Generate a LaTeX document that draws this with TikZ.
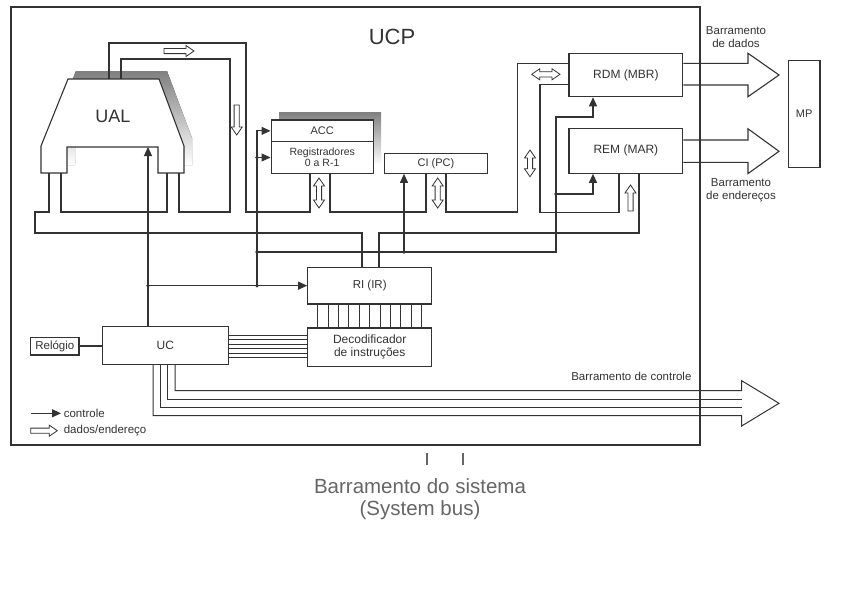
\documentclass[tikz,border=0pt]{standalone}
\usepackage{fontspec}
\setmainfont{Liberation Sans}
\usetikzlibrary{arrows.meta}
\definecolor{ink}{HTML}{333333}
\definecolor{shade}{HTML}{A8A8A8}
\definecolor{capt}{HTML}{666666}
% hollow (data/address) arrows
\newcommand\hollowR[3]{\draw[hol] (#1,#3-2.6) -- (#2-8,#3-2.6) -- (#2-8,#3-5.5) -- (#2,#3) -- (#2-8,#3+5.5) -- (#2-8,#3+2.6) -- (#1,#3+2.6) -- cycle;}
\newcommand\hollowD[3]{\draw[hol] (#1-2.6,#2) -- (#1-2.6,#3-8) -- (#1-5.5,#3-8) -- (#1,#3) -- (#1+5.5,#3-8) -- (#1+2.6,#3-8) -- (#1+2.6,#2) -- cycle;}
\newcommand\hollowU[3]{\draw[hol] (#1-2.6,#2) -- (#1-2.6,#3+8) -- (#1-5.5,#3+8) -- (#1,#3) -- (#1+5.5,#3+8) -- (#1+2.6,#3+8) -- (#1+2.6,#2) -- cycle;}
\newcommand\hollowUD[3]{\draw[hol] (#1,#2) -- (#1+5.5,#2+8) -- (#1+2.6,#2+8) -- (#1+2.6,#3-8) -- (#1+5.5,#3-8) -- (#1,#3) -- (#1-5.5,#3-8) -- (#1-2.6,#3-8) -- (#1-2.6,#2+8) -- (#1-5.5,#2+8) -- cycle;}
\newcommand\hollowLR[3]{\draw[hol] (#1,#3) -- (#1+8,#3-5.5) -- (#1+8,#3-2.6) -- (#2-8,#3-2.6) -- (#2-8,#3-5.5) -- (#2,#3) -- (#2-8,#3+5.5) -- (#2-8,#3+2.6) -- (#1+8,#3+2.6) -- (#1+8,#3+5.5) -- cycle;}
\begin{document}
\begin{tikzpicture}[x=1pt,y=-1pt,color=ink,line width=1.1pt,
  box/.style={draw,fill=white,inner sep=0pt,align=center,font=\fontsize{11.5}{12.5}\selectfont},
  lbl/.style={inner sep=0pt,align=center,font=\fontsize{11.5}{13}\selectfont},
  hol/.style={draw,fill=white,line width=0.8pt,line join=miter},
  ctl/.style={-{Triangle[length=9pt,width=8pt]}},
  jdot/.style={circle,fill=ink,inner sep=0pt,minimum size=3.8pt},
  cbus/.style={line width=1pt}]
\useasboundingbox (0,0) rectangle (855,597);
\fill[white] (0,0) rectangle (855,597);

% UCP frame
\node[draw,inner sep=0pt,minimum width=689pt,minimum height=438pt] (ucp) at (355.5,226) {};
\node[lbl,font=\fontsize{22}{24}\selectfont] (ucplbl) at (392,37) {UCP};

% UAL with shadow
\fill[shade,shift={(8,-8)}] (68,79) -- (159,79) -- (184,146) -- (184,173) -- (158,173) -- (158,147) -- (67,147) -- (67,173) -- (41,173) -- (41,146) -- cycle;
\draw[fill=white] (68,79) -- (159,79) -- (184,146) -- (184,173) -- (158,173) -- (158,147) -- (67,147) -- (67,173) -- (41,173) -- (41,146) -- cycle;
\node[lbl,font=\fontsize{18}{20}\selectfont] (ual) at (113,116.5) {UAL};

% ACC / registers shadow
\fill[shade] (279,112) rectangle (381,165);

% boxes
\node[box,minimum width=102.3pt,minimum height=21.7pt,font=\fontsize{11}{12}\selectfont] (acc) at (322.2,130.85) {ACC};
\node[box,minimum width=102.3pt,minimum height=31.6pt,font=\fontsize{10.5}{11}\selectfont] (regs) at (322.2,157.5) {Registradores\\0 a R-1};
\node[box,minimum width=103.4pt,minimum height=20pt,font=\fontsize{11}{12}\selectfont] (ci) at (436,163.3) {CI (PC)};
\node[box,minimum width=113.7pt,minimum height=43.4pt,font=\fontsize{12}{13}\selectfont] (rdm) at (625.85,75) {RDM (MBR)};
\node[box,minimum width=113.7pt,minimum height=45pt,font=\fontsize{12}{13}\selectfont] (rem) at (625.85,150.8) {REM (MAR)};
\node[box,minimum width=31.7pt,minimum height=107pt,font=\fontsize{11}{12}\selectfont] (mp) at (804.15,114.2) {MP};
\node[box,minimum width=124pt,minimum height=36.7pt,font=\fontsize{11.5}{12.5}\selectfont] (ri) at (369.7,285.65) {RI (IR)};
\node[box,minimum width=124pt,minimum height=38.7pt,font=\fontsize{12}{13}\selectfont] (dec) at (369.7,347.35) {Decodificador\\de instruções};
\node[box,minimum width=126pt,minimum height=37.6pt,font=\fontsize{12}{13}\selectfont] (uc) at (165.3,345.5) {UC};
\node[box,minimum width=48.3pt,minimum height=17.7pt,font=\fontsize{11.5}{12}\selectfont] (rel) at (54.85,346.15) {Relógio};

% internal data bus (double walls)
\draw (49,173) -- (49,212) -- (35,212) -- (35,233) -- (362,233) -- (ri.north -| 362,0);
\draw (61,173) -- (61,212) -- (167,212) -- (167,173);
\draw (179,173) -- (179,212) -- (230,212) -- (230,59) -- (121,59) -- (121,79);
\draw (109,79) -- (109,43) -- (246,43) -- (246,212) -- (310,212) -- (regs.south -| 310,0);
\draw (regs.south -| 330,0) -- (330,212) -- (426,212) -- (ci.south -| 426,0);
\draw (ci.south -| 446,0) -- (446,212) -- (517.7,212) -- (517.7,63.3) -- (rdm.west |- 0,63.3);
\draw (rdm.west |- 0,84.3) -- (540,84.3) -- (540,212.7) -- (619,212.7) -- (rem.south -| 619,0);
\draw (rem.south -| 639,0) -- (639,233) -- (379,233) -- (ri.north -| 379,0);

% hollow data arrows
\hollowR{164}{194}{51}
\hollowD{236.7}{105}{135}
\hollowUD{319}{178}{208}
\hollowUD{437.7}{178}{208}
\hollowLR{531.7}{560}{74.3}
\hollowUD{530}{150}{176.7}
\hollowU{630.5}{211}{185}

% control lines
\draw[ctl] (uc.north -| 148,0) -- (148,147);
\draw[ctl] (148,285.65) -- (ri.west);
\draw[ctl] (257,285.65) -- (257,130.85) -- (acc.west);
\draw[ctl] (257,157.5) -- (regs.west);
\draw[ctl] (257,252) -- (556,252) -- (556,117) -- (593,117) -- (rdm.south -| 593,0);
\draw[ctl] (404,252) -- (ci.south -| 404,0);
\draw[ctl] (556,194) -- (593,194) -- (rem.south -| 593,0);
\foreach \p in {(148,285.65),(257,285.65),(257,157.5),(257,252),(404,252),(556,194)}
  \node[jdot] at \p {};

% RI -> decoder wires
\foreach \k in {0,...,10}{\pgfmathsetmacro\xx{317.7+10.4*\k}
  \draw[line width=0.9pt] (ri.south -| \xx,0) -- (dec.north -| \xx,0);}
% UC -> decoder wires
\foreach \k in {0,...,5}{\pgfmathsetmacro\yy{335.5+4.4*\k}
  \draw[line width=0.9pt] (uc.east |- 0,\yy) -- (dec.west |- 0,\yy);}

% clock
\draw[line width=2.2pt] (rel.east) -- (rel.east -| uc.west);

% external data and address buses
\draw (rdm.east |- 0,63.3) -- (748,63.3) -- (748,53.3) -- (779,75) -- (748,96.7) -- (748,85) -- (rdm.east |- 0,85);
\draw (rem.east |- 0,140) -- (748,140) -- (748,128.8) -- (779,151.3) -- (748,173.6) -- (748,162.3) -- (rem.east |- 0,162.3);
\node[lbl] (bdados) at (736,37.5) {Barramento\\de dados};
\node[lbl] (bender) at (741,190) {Barramento\\de endereços};

% control bus
\draw[cbus] (uc.south -| 175,0) -- (175,390.7) -- (741.7,390.7) -- (741.7,380.7) -- (779,403.3) -- (741.7,426) -- (741.7,415.7) -- (153,415.7) -- (uc.south -| 153,0);
\draw[cbus] (uc.south -| 167,0) -- (167,399) -- (741.7,399);
\draw[cbus] (uc.south -| 160,0) -- (160,407.3) -- (741.7,407.3);
\node[lbl,anchor=east] (bctl) at (692,376) {Barramento de controle};

% legend
\coordinate (lg1a) at (30.7,413.3);
\coordinate (lg1b) at (61,413.3);
\draw[ctl] (lg1a) -- (lg1b);
\node[lbl,anchor=west] (lgc) at (63.3,413.3) {controle};
\hollowR{30.7}{57.3}{430.7}
\node[lbl,anchor=west] (lgd) at (63.3,430.7) {dados/endereço};

% system bus caption
\draw[capt,line width=1.6pt] (426.7,453) -- (426.7,465);
\draw[capt,line width=1.6pt] (462.7,453) -- (462.7,465);
\node[lbl,text=capt,font=\fontsize{20.5}{22.5}\selectfont] (sysbus) at (420,499) {Barramento do sistema\\(System bus)};
\end{tikzpicture}
\end{document}
